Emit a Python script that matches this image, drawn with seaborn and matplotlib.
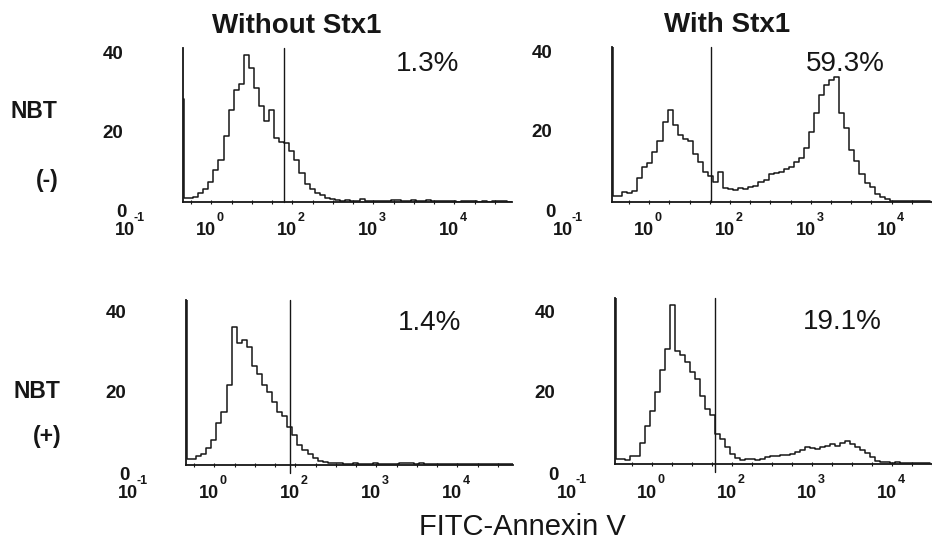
import numpy as np
import pandas as pd
import matplotlib
matplotlib.use("Agg")
import matplotlib.pyplot as plt
import seaborn as sns
from matplotlib import font_manager

# ------------------------------------------------------------------ data
col_titles = ["Without Stx1", "With Stx1"]
row_names = ["NBT", "NBT"]
row_signs = ["(-)", "(+)"]
x_tick_decades = [-1, 0, 1, 2, 3]
x_tick_exponents = ["-1", "0", "2", "3", "4"]
y_tick_values = [40, 20, 0]
bin_width = 0.0625          # log10 decades per plotted channel group

pct_tl, pct_tr, pct_bl, pct_br = "1.3%", "59.3%", "1.4%", "19.1%"

# first-channel log10 position and gate (marker) position, in decades
start_tl, gate_tl = -0.35, 0.90
start_tr, gate_tr = -0.46, 0.77
start_bl, gate_bl = -0.35, 0.93
start_br, gate_br = -0.46, 0.79

counts_tl = [28, 1, 1.4, 2.4, 3.5, 5.5, 8.7, 11.4, 18, 25,
             30.5, 32, 40, 36.5, 31, 26, 22, 25, 17.5, 16.4,
             16, 14, 11.4, 8, 5, 3.5, 2.5, 1.9, 1, 0.8,
             0.5, 0.3, 0.6, 0.2, 0.3, 0.7, 0.2, 0.2, 0.4, 0.2,
             0.3, 0.5, 0.6, 0.3, 0.2, 0.5, 0.3, 0.3, 0.6, 0.4,
             0.3, 0.2, 0.4, 0.2, 0.1, 0.2, 0.3, 0.2, 0.1, 0.2,
             0.1, 0.2, 0.3, 0.2, 0.1]
counts_tr = [45, 1.5, 2.7, 2.4, 3.0, 6.5, 9.5, 10.5, 13.5, 16.5,
             21.7, 24.8, 20.8, 18, 17, 16.5, 13, 10.8, 8, 6.9,
             5.5, 8, 3.8, 3.5, 3.2, 3.8, 3.4, 4, 4.2, 5.5,
             6, 7.5, 7.8, 8.1, 8.8, 9.5, 10.8, 12, 14.5, 19,
             24, 29, 31.5, 33, 33.8, 24, 20, 14, 11, 7.5,
             5, 4, 2.2, 1.3, 0.7, 0.4, 0.3, 0.2, 0.3, 0.2,
             0.2, 0.3, 0.2]
counts_bl = [45, 1.5, 2.3, 3, 4.5, 6.5, 11, 14, 21, 36.4,
             32, 33, 31, 26, 24, 21, 19.3, 16.5, 14, 13,
             10, 7.8, 5.3, 3.9, 3, 1.8, 1.1, 0.8, 0.6, 0.4,
             0.4, 0.3, 0.3, 0.4, 0.3, 0.2, 0.3, 0.4, 0.3, 0.2,
             0.3, 0.3, 0.4, 0.5, 0.4, 0.3, 0.4, 0.3, 0.2, 0.3,
             0.2, 0.3, 0.2, 0.2, 0.3, 0.2, 0.2, 0.3, 0.2, 0.2,
             0.3, 0.2, 0.2, 0.3, 0.2]
counts_br = [45, 1.2, 1.0, 2.2, 2.0, 5.5, 10, 14, 19, 25,
             30.5, 42, 30, 29, 27, 24.5, 22.5, 18, 14.5, 13,
             8, 6.5, 4.5, 2.6, 1.5, 1.0, 1.2, 1.3, 1.0, 1.4,
             1.8, 2.0, 2.2, 2.3, 2.4, 2.6, 3.2, 3.8, 4.4, 4.2,
             4.0, 4.6, 4.8, 5.3, 4.9, 5.6, 6.1, 5.3, 4.5, 3.8,
             3.0, 1.8, 0.9, 0.5, 0.4, 0.3, 0.4, 0.3, 0.3, 0.2,
             0.3, 0.2, 0.2]

# ------------------------------------------------------------------ style
sns.set_style("white")
plt.rcParams["font.family"] = ["Liberation Sans", "DejaVu Sans"]
names = {f.name for f in font_manager.fontManager.ttflist}
NARROW = "Liberation Sans Narrow" if "Liberation Sans Narrow" in names else None

W, H = 932, 543
PX_PER_DEC = 81.0
INK = "#161616"
fig = plt.figure(figsize=(W / 100, H / 100), dpi=100)
PT = 0.72  # points per pixel


def ftext(x, y, s, **kw):
    kw.setdefault("ha", "center")
    kw.setdefault("va", "center")
    kw.setdefault("color", INK)
    fig.text(x / W, 1 - y / H, s, **kw)


# panel layout in pixels: left, right, baseline, top, ymax
panels = [
    dict(counts=counts_tl, start=start_tl, gate=gate_tl, pct=pct_tl,
         box=(183, 512, 202, 47.6, 42.0), pct_xy=(428, 64), gate_drop=0.0),
    dict(counts=counts_tr, start=start_tr, gate=gate_tr, pct=pct_tr,
         box=(612, 932, 202, 46.6, 42.0), pct_xy=(845, 64), gate_drop=0.0),
    dict(counts=counts_bl, start=start_bl, gate=gate_bl, pct=pct_bl,
         box=(186, 513, 465, 299.7, 43.5), pct_xy=(430, 323), gate_drop=0.05),
    dict(counts=counts_br, start=start_br, gate=gate_br, pct=pct_br,
         box=(615, 932, 464, 297.9, 44.0), pct_xy=(842, 322), gate_drop=0.05),
]

for p in panels:
    left, right, base, top, ymax = p["box"]
    ax = fig.add_axes([left / W, 1 - base / H, (right - left) / W, (base - top) / H])
    counts = [float(c) for c in p["counts"]]
    edges = [p["start"] + bin_width * k for k in range(len(counts) + 1)]
    edges[1] = p["start"] + 0.2 * bin_width      # narrow first (pile-up) channel
    centers = [0.5 * (a + b) for a, b in zip(edges[:-1], edges[1:])]
    df = pd.DataFrame({"log_fitc": centers, "events": counts})
    sns.histplot(data=df, x="log_fitc", weights="events", bins=edges,
                 element="step", fill=False, color=INK, linewidth=1.1, ax=ax)
    ax.set_xlim(p["start"], p["start"] + (right - left) / PX_PER_DEC)
    ax.set_ylim(0, ymax)
    ax.axvline(p["gate"], ymin=-p["gate_drop"], ymax=1.0, color=INK,
               linewidth=1.0, clip_on=False)
    ax.set_xlabel("")
    ax.set_ylabel("")
    ax.set_yticks([])
    ax.set_xticks(np.arange(-0.25, 3.6, 0.25))
    ax.tick_params(axis="x", direction="inout", length=3, width=0.8,
                   color=INK, labelbottom=False, bottom=True)
    for s in ("top", "right"):
        ax.spines[s].set_visible(False)
    ax.spines["left"].set_linewidth(1.3)
    ax.spines["left"].set_color(INK)
    ax.spines["bottom"].set_linewidth(1.3)
    ax.spines["bottom"].set_color(INK)
    ax.set_facecolor("white")

    # y tick labels
    for v in y_tick_values:
        dx = -62 if v == 0 else -70
        dy = {40: 0, 20: -5, 0: -11}[v]
        ax.annotate(str(v), xy=(0, v), xycoords=("axes fraction", "data"),
                    xytext=(dx * PT, dy * PT), textcoords="offset points",
                    ha="center", va="center", fontsize=13.5, fontweight="bold",
                    color=INK, annotation_clip=False)
    # x tick labels: base "10" with exponent
    for d, e in zip(x_tick_decades, x_tick_exponents):
        ax.annotate("10", xy=(d, 0), xycoords=("data", "axes fraction"),
                    xytext=(-5 * PT, -29 * PT), textcoords="offset points",
                    ha="center", va="center", fontsize=13, fontweight="bold",
                    color=INK, annotation_clip=False)
        ax.annotate(e, xy=(d, 0), xycoords=("data", "axes fraction"),
                    xytext=(9 * PT, -16 * PT), textcoords="offset points",
                    ha="center", va="center", fontsize=9, fontweight="bold",
                    color=INK, annotation_clip=False)
    ftext(*p["pct_xy"], p["pct"], fontsize=20)

# column titles
ftext(297, 26, col_titles[0], fontsize=20, fontweight="bold")
ftext(727, 25, col_titles[1], fontsize=20, fontweight="bold")

# row labels
if NARROW:
    rkw = dict(family=[NARROW, "Liberation Sans"], fontweight="bold", fontsize=20)
else:
    rkw = dict(fontweight="bold", fontsize=16.5)
ftext(34, 112, row_names[0], **rkw)
ftext(47, 181, row_signs[0], **rkw)
ftext(37, 392, row_names[1], **rkw)
ftext(47, 437, row_signs[1], **rkw)

# shared x-axis label
ftext(522, 527, "FITC-Annexin V", fontsize=21)

fig.savefig("out.png", dpi=100, facecolor="white")
